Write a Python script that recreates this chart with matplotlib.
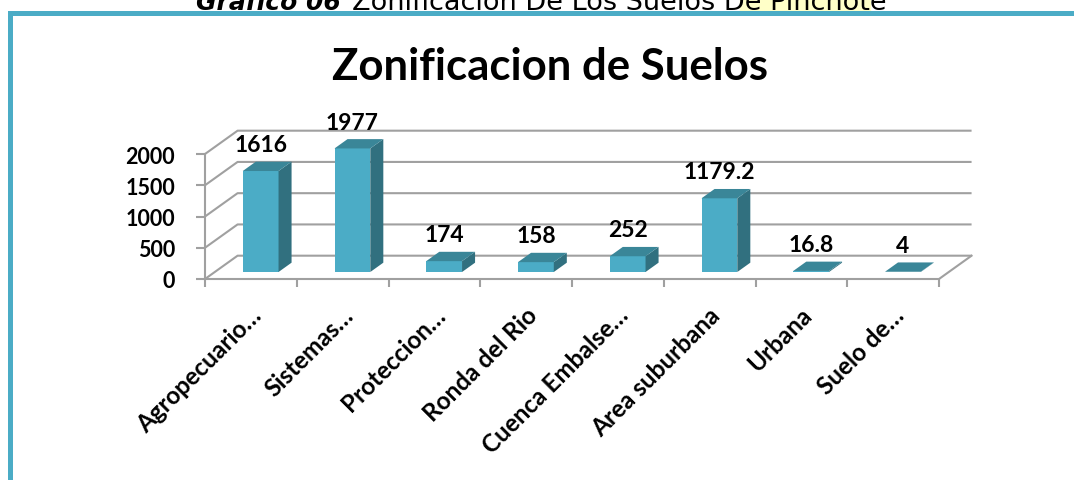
import matplotlib
matplotlib.use("Agg")
import matplotlib.pyplot as plt
from matplotlib.patches import Polygon, Rectangle

# Data
categories = ["Agropecuario…", "Sistemas…", "Proteccion…", "Ronda del Rio",
              "Cuenca Embalse…", "Area suburbana", "Urbana", "Suelo de…"]
values = [1616, 1977, 174, 158, 252, 1179.2, 16.8, 4]
value_labels = ["1616", "1977", "174", "158", "252", "1179.2", "16.8", "4"]
yticks = [0, 500, 1000, 1500, 2000]

# Style
FRONT = "#4BACC6"
SIDE = "#31707F"
TOP = "#3A8698"
GRID = "#A0A0A0"
FRAME = "#4BACC6"
FONT = "Lato"

W, H = 1074, 481
fig = plt.figure(figsize=(W / 100, H / 100), dpi=100)

# header caption (clipped at the top edge like the source page)
fig.add_artist(Rectangle((740 / W, 1 - 13 / H), 130 / W, 13 / H,
                         transform=fig.transFigure, color="#FFFFC8", zorder=0))
fig.text(341 / W, 1 - 10 / H, "Gráfico 06", ha="right", va="baseline",
         fontsize=18, fontweight="bold", fontstyle="italic", family="DejaVu Sans")
fig.text(352 / W, 1 - 10 / H, "Zonificacion De Los Suelos De Pinchote",
         ha="left", va="baseline", fontsize=19.5, family="DejaVu Sans")

# frame
fig.add_artist(Rectangle((8 / W, 1 - 16.5 / H), (W - 8) / W, 4.5 / H,
                         transform=fig.transFigure, color=FRAME, lw=0))
fig.add_artist(Rectangle((8 / W, 0), 5 / W, 1 - 12 / H,
                         transform=fig.transFigure, color=FRAME, lw=0))

fig.text(550 / W, 1 - 80 / H, "Zonificacion de Suelos", ha="center",
         va="baseline", fontsize=31.5, fontweight="bold", family=FONT)

ax = fig.add_axes([205 / W, 1 - 280 / H, (939 - 205) / W, 125 / H])
n = len(categories)
ax.set_xlim(0, n)
ax.set_ylim(0, 2000)

# 3D depth offsets in data units
DX, DY = 0.355, 373
f0, fd = 0.3, 0.4
bw = 0.39

# walls: side wall diagonals and back wall lines
for v in yticks:
    ax.plot([0, DX, n + DX], [v, v + DY, v + DY], color=GRID, lw=1.5,
            clip_on=False, zorder=1, solid_capstyle="butt")
ax.plot([n, n + DX], [0, DY], color=GRID, lw=1.5, clip_on=False, zorder=1)

# bars
for i, (v, lab) in enumerate(zip(values, value_labels)):
    cx = i + 0.5 + f0 * DX
    x0, x1 = cx - bw / 2, cx + bw / 2
    yb = f0 * DY
    bdx, bdy = fd * DX, fd * DY
    ax.add_patch(Polygon([(x0, yb), (x1, yb), (x1, yb + v), (x0, yb + v)],
                         closed=True, fc=FRONT, ec="none", clip_on=False, zorder=3))
    ax.add_patch(Polygon([(x1, yb), (x1 + bdx, yb + bdy), (x1 + bdx, yb + v + bdy),
                          (x1, yb + v)], closed=True, fc=SIDE, ec="none",
                         clip_on=False, zorder=3))
    ax.add_patch(Polygon([(x0, yb + v), (x1, yb + v), (x1 + bdx, yb + v + bdy),
                          (x0 + bdx, yb + v + bdy)], closed=True, fc=TOP, ec="none",
                         clip_on=False, zorder=3))
    ax.annotate(lab, (cx, yb + v + bdy), xytext=(0, 17), textcoords="offset pixels",
                ha="center", va="center", fontsize=16.5, fontweight="bold",
                family=FONT, annotation_clip=False, zorder=4)

# axes
for s in ["top", "right"]:
    ax.spines[s].set_visible(False)
for s in ["left", "bottom"]:
    ax.spines[s].set_color(GRID)
    ax.spines[s].set_linewidth(1.5)
ax.set_yticks(yticks)
ax.set_yticklabels([str(t) for t in yticks], fontsize=15.5, fontweight="bold", family=FONT)
ax.tick_params(axis="y", length=6.5, width=1.5, color=GRID, pad=15)
ax.set_xticks(range(n + 1))
ax.set_xticklabels([])
ax.tick_params(axis="x", length=6, width=1.5, color=GRID)

for i, c in enumerate(categories):
    ax.annotate(c, (i + 0.5, 0), xytext=(7, -32), textcoords="offset pixels",
                ha="right", va="center", rotation=45, rotation_mode="anchor",
                fontsize=17.5, fontweight="bold", family=FONT, annotation_clip=False)

fig.savefig("out.png", dpi=100)
